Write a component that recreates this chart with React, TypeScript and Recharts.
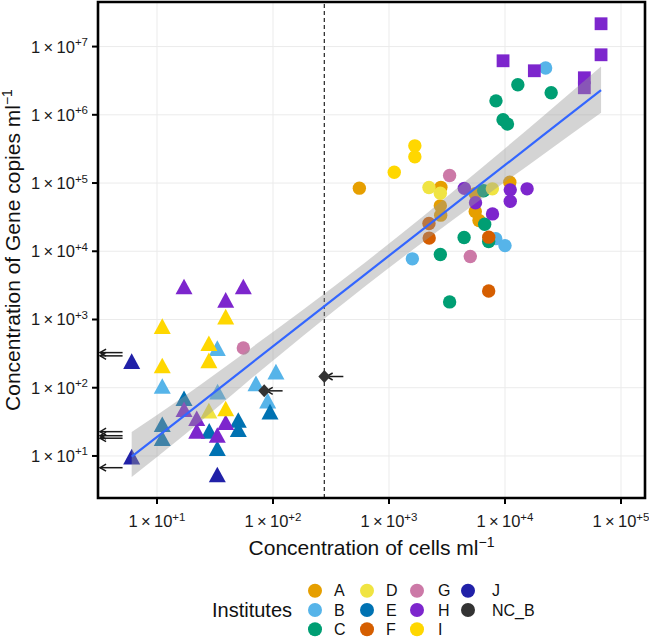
import React from "react";
import {
  ComposedChart,
  Scatter,
  Area,
  Line,
  XAxis,
  YAxis,
  CartesianGrid,
  ReferenceLine,
  ReferenceArea,
} from "recharts";

const FONT = "'Liberation Sans', Arial, Helvetica, sans-serif";

const institutes = ["A", "B", "C", "D", "E", "F", "G", "H", "I", "J", "NC_B"];
const instituteColors = [
  "#E69F00", "#56B4E9", "#009E73", "#F0E442", "#0072B2", "#D55E00",
  "#CC79A7", "#7D26CD", "#FFD700", "#2121A8", "#333333",
];

const xTicks = [1e1, 1e2, 1e3, 1e4, 1e5];
const yTicks = [1e1, 1e2, 1e3, 1e4, 1e5, 1e6, 1e7];
const xDomain = [3.1, 161000];
const yDomain = [2.42, 4.5e7];
const detectionLimit = 277;

// [cells ml-1, gene copies ml-1]
const aCircles = [[555, 84100], [2800, 86500], [2770, 46300], [2790, 33800], [5540, 69500], [5540, 38200], [5970, 28200], [11000, 103000]];
const bCircles = [[22400, 4840000], [8320, 15300], [10000, 12100], [1590, 7740]];
const bTriangles = [[11.1, 106], [33.1, 380], [71.3, 116], [106, 172], [90, 64.7], [33.3, 87.7]];
const cCircles = [[12900, 2750000], [25000, 2100000], [8360, 1600000], [9620, 845000], [10500, 731000], [6550, 76900], [6680, 24900], [4440, 15900], [7230, 13900], [2770, 8950], [3330, 1810]];
const dCircles = [[2210, 85900], [2770, 71100], [7780, 82200]];
const dTriangles = [[28, 46.1]];
const eTriangles = [[17.1, 70.2], [11.1, 29.2], [11.1, 18.2], [28.2, 23.3], [50.2, 33.7], [50.2, 24.6], [33.1, 13.0], [94.2, 44.7]];
const fCircles = [[2210, 25500], [2220, 15600], [7240, 16100], [7230, 2620]];
const gCircles = [[3330, 129000], [5020, 8360], [55.5, 383]];
const hCircles = [[4460, 83600], [11100, 79400], [15500, 82200], [11100, 53900], [5570, 51300], [7800, 35300]];
const hSquares = [[67300, 21600000], [67300, 7580000], [9620, 6190000], [17900, 4420000], [48300, 3490000], [48300, 2490000]];
const hTriangles = [[17.1, 3040], [55.5, 3040], [39.1, 1940], [17.1, 48.4], [22, 35.7], [22, 23.3], [33.1, 20.3], [39.1, 31.2]];
const iCircles = [[1670, 351000], [1670, 242000], [1110, 144000]];
const iTriangles = [[11.1, 800], [11.1, 212], [28, 449], [28, 252], [39.1, 1100], [39.1, 49.5]];
const jTriangles = [[6.05, 245], [6.05, 9.77], [33.1, 5.35]];
const ncbDiamonds = [[84, 90], [277, 146]];

// censored values (arrows pointing left)
const arrowTipX = [3.23, 3.23, 3.23, 3.23, 3.23, 3.23, 88.3, 290];
const arrowTailX = [5.05, 5.05, 5.05, 5.05, 5.05, 5.05, 121, 404];
const arrowY = [327, 293, 22.7, 19.8, 18.2, 6.73, 90, 146];

// regression fit and confidence band
const bandX = [6.05, 17.8, 56.2, 178, 631, 1995, 6310, 19950, 67300];
const fitY = [9.77, 40.8, 188, 869, 4667, 21530, 99300, 458000, 2300000];
const bandLow = [4.9, 21.3, 111, 558, 3119, 13930, 58900, 241500, 1070000];
const bandHigh = [22.5, 78.3, 321, 1352, 6982, 33270, 167500, 869000, 5100000];

const fitRows = bandX.map((x, i) => ({ x, fit: fitY[i], band: [bandLow[i], bandHigh[i]] }));
const toPts = (arr: number[][]) => arr.map(([x, y]) => ({ x, y }));

const Dot = (p: any) => <circle cx={p.cx} cy={p.cy} r={6.7} fill={p.fill} />;
const Tri = (p: any) => (
  <polygon
    points={`${p.cx},${p.cy - 7.8} ${p.cx + 8.5},${p.cy + 7.8} ${p.cx - 8.5},${p.cy + 7.8}`}
    fill={p.fill}
  />
);
const Sq = (p: any) => <rect x={p.cx - 6.4} y={p.cy - 6.4} width={12.8} height={12.8} fill={p.fill} />;
const Dia = (p: any) => (
  <polygon
    points={`${p.cx},${p.cy - 6.5} ${p.cx + 6},${p.cy} ${p.cx},${p.cy + 6.5} ${p.cx - 6},${p.cy}`}
    fill={p.fill}
  />
);

const colorOf = (name: string) => instituteColors[institutes.indexOf(name)];

const series = [
  { inst: "A", data: aCircles, shape: Dot },
  { inst: "B", data: bCircles, shape: Dot },
  { inst: "B", data: bTriangles, shape: Tri },
  { inst: "C", data: cCircles, shape: Dot },
  { inst: "D", data: dCircles, shape: Dot },
  { inst: "D", data: dTriangles, shape: Tri },
  { inst: "E", data: eTriangles, shape: Tri },
  { inst: "F", data: fCircles, shape: Dot },
  { inst: "G", data: gCircles, shape: Dot },
  { inst: "H", data: hCircles, shape: Dot },
  { inst: "H", data: hSquares, shape: Sq },
  { inst: "H", data: hTriangles, shape: Tri },
  { inst: "I", data: iCircles, shape: Dot },
  { inst: "I", data: iTriangles, shape: Tri },
  { inst: "J", data: jTriangles, shape: Tri },
  { inst: "NC_B", data: ncbDiamonds, shape: Dia },
];

const XTick = (p: any) => {
  const e = Math.round(Math.log10(p.payload.value));
  return (
    <text x={p.x} y={p.y + 21} textAnchor="middle" fontFamily={FONT} fontSize={16.5} fill="#1a1a1a">
      {"1\u2009\u00d7\u200910"}
      <tspan dy={-6.5} fontSize={11.5}>{"+" + e}</tspan>
    </text>
  );
};

const YTick = (p: any) => {
  const e = Math.round(Math.log10(p.payload.value));
  return (
    <text x={p.x} y={p.y + 6} textAnchor="end" fontFamily={FONT} fontSize={16.5} fill="#1a1a1a">
      {"1\u2009\u00d7\u200910"}
      <tspan dy={-6.5} fontSize={11.5}>{"+" + e}</tspan>
    </text>
  );
};

const Arrow = (p: any) => {
  const { x1, y1, x2, y2 } = p;
  if (x1 == null || y1 == null) return <g />;
  return (
    <g stroke="#1a1a1a" strokeWidth={1.5} fill="none">
      <line x1={x1} y1={y1} x2={x2} y2={y2} />
      <polyline points={`${x1 + 6},${y1 - 3.5} ${x1},${y1} ${x1 + 6},${y1 + 3.5}`} />
    </g>
  );
};

export default function App() {
  return (
    <div style={{ position: "absolute", left: 0, top: 0, width: 649, height: 638, background: "#fff" }}>
      <ComposedChart width={649} height={560} data={fitRows} margin={{ top: 2, right: 4, bottom: 0, left: 0 }}>
        <CartesianGrid stroke="#EBEBEB" strokeWidth={1} />
        <XAxis
          type="number"
          dataKey="x"
          scale="log"
          domain={xDomain}
          allowDataOverflow
          ticks={xTicks}
          interval={0}
          tick={<XTick />}
          tickSize={6}
          tickMargin={2}
          axisLine={false}
          tickLine={{ stroke: "#000", strokeWidth: 2 }}
          height={62}
        />
        <YAxis
          type="number"
          dataKey="y"
          scale="log"
          domain={yDomain}
          allowDataOverflow
          ticks={yTicks}
          interval={0}
          tick={<YTick />}
          tickSize={6}
          tickMargin={4}
          axisLine={false}
          tickLine={{ stroke: "#000", strokeWidth: 2 }}
          width={98}
        />
        <ReferenceLine x={detectionLimit} stroke="#333" strokeDasharray="4 3" strokeWidth={1.3} />
        {series.map((s, i) => (
          <Scatter
            key={i}
            data={toPts(s.data)}
            fill={colorOf(s.inst)}
            shape={s.shape}
            isAnimationActive={false}
          />
        ))}
        {arrowY.map((y, i) => (
          <ReferenceLine
            key={"ar" + i}
            segment={[{ x: arrowTipX[i], y }, { x: arrowTailX[i], y }]}
            shape={Arrow}
            ifOverflow="visible"
          />
        ))}
        <Area
          type="monotone"
          dataKey="band"
          fill="#999999"
          fillOpacity={0.42}
          stroke="none"
          isAnimationActive={false}
          zIndex={650}
        />
        <Line
          type="linear"
          dataKey="fit"
          stroke="#3366FF"
          strokeWidth={2.2}
          dot={false}
          activeDot={false}
          isAnimationActive={false}
          zIndex={660}
        />
        <ReferenceArea
          x1={xDomain[0]}
          x2={xDomain[1]}
          y1={yDomain[0]}
          y2={yDomain[1]}
          fill="none"
          fillOpacity={0}
          stroke="#000"
          strokeWidth={2.6}
          ifOverflow="visible"
          zIndex={2000}
        />
      </ComposedChart>
      <svg
        width={649}
        height={638}
        style={{ position: "absolute", left: 0, top: 0, pointerEvents: "none" }}
        fontFamily={FONT}
      >
        <text transform="rotate(-90)" x={-250} y={20} textAnchor="middle" fontSize={21} fill="#111">
          Concentration of Gene copies ml
          <tspan dy={-8} fontSize={14}>{"\u22121"}</tspan>
        </text>
        <text x={371.5} y={555} textAnchor="middle" fontSize={21} fill="#111">
          Concentration of cells ml
          <tspan dy={-8} fontSize={14}>{"\u22121"}</tspan>
        </text>
        <text x={212} y={617} fontSize={20} fill="#111">Institutes</text>
        {institutes.map((name, i) => {
          const col = Math.floor(i / 3);
          const row = i % 3;
          const cx = [315, 367, 417, 468][col];
          const tx = [334, 386, 438, 492][col];
          const cy = 590.7 + row * 19.3;
          return (
            <g key={name}>
              <circle cx={cx} cy={cy} r={7} fill={instituteColors[i]} />
              <text x={tx} y={cy + 5.5} fontSize={16} fill="#111">{name}</text>
            </g>
          );
        })}
      </svg>
    </div>
  );
}
